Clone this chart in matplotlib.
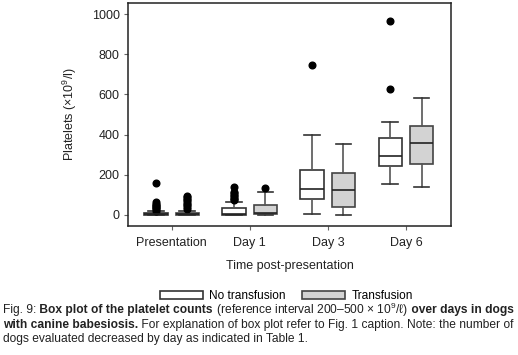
import matplotlib
matplotlib.use("Agg")
import matplotlib.pyplot as plt
import matplotlib.patches as mpatches

plt.rcParams['font.family'] = ['Liberation Sans', 'DejaVu Sans']
plt.rcParams['mathtext.fontset'] = 'custom'
plt.rcParams['mathtext.rm'] = 'Liberation Sans'
plt.rcParams['mathtext.default'] = 'regular'

# ---------- Data (x10^9/l) ----------
days = ['Presentation', 'Day 1', 'Day 3', 'Day 6']
groups = ['No transfusion', 'Transfusion']

no_q1 = [0, 2, 80, 244]
no_med = [3, 6, 129, 295]
no_q3 = [8, 33, 225, 381]
no_lo = [0, 0, 5, 154]
no_hi = [18, 66, 400, 461]
no_fliers = [[22, 28, 33, 38, 44, 50, 56, 62, 160],
             [74, 80, 86, 92, 100, 108, 116, 138],
             [746],
             [627, 965]]

tr_q1 = [2, 3, 41, 255]
tr_med = [5, 8, 123, 357]
tr_q3 = [10, 50, 209, 444]
tr_lo = [0, 0, 2, 139]
tr_hi = [20, 113, 355, 584]
tr_fliers = [[32, 40, 48, 56, 64, 72, 80, 88, 95],
             [133],
             [],
             []]

y_ticks = [0, 200, 400, 600, 800, 1000]


def make_stats(q1, med, q3, lo, hi, fliers):
    return [dict(q1=a, med=b, q3=c, whislo=d, whishi=e, fliers=f)
            for a, b, c, d, e, f in zip(q1, med, q3, lo, hi, fliers)]


fig = plt.figure(figsize=(5.18, 3.55), dpi=100)
ax = fig.add_axes([0.247, 0.3634, 0.624, 0.628])

fs = 9.0
common = dict(widths=0.3, capwidths=0.2, showfliers=True, patch_artist=True,
              whiskerprops=dict(color='#555555', lw=1.2),
              capprops=dict(color='#333333', lw=1.2),
              medianprops=dict(color='#222222', lw=1.2),
              flierprops=dict(marker='o', markerfacecolor='black',
                              markeredgecolor='black', markersize=4.8))

x = range(len(days))
ax.bxp(make_stats(no_q1, no_med, no_q3, no_lo, no_hi, no_fliers),
       positions=[i - 0.2 for i in x],
       boxprops=dict(facecolor='white', edgecolor='#333333', lw=1.2), **common)
ax.bxp(make_stats(tr_q1, tr_med, tr_q3, tr_lo, tr_hi, tr_fliers),
       positions=[i + 0.2 for i in x],
       boxprops=dict(facecolor='#d3d3d3', edgecolor='#444444', lw=1.2), **common)

ax.set_xlim(-0.56, 3.58)
ax.set_ylim(-55, 1055)
ax.set_xticks(list(x))
ax.set_xticklabels(days, fontsize=fs, color='#222222')
ax.set_yticks(y_ticks)
ax.set_yticklabels([str(v) for v in y_ticks], fontsize=fs, color='#222222')
ax.tick_params(direction='out', length=3, color='#666666', pad=3)
ax.tick_params(axis='x', pad=5)
for s in ax.spines.values():
    s.set_linewidth(1.1)
    s.set_color('#222222')
ax.set_xlabel('Time post-presentation', fontsize=fs, color='#222222', labelpad=8)
ax.set_ylabel('Platelets (×10$^9$/l)', fontsize=fs, color='#222222', labelpad=9)

handles = [mpatches.Patch(facecolor='white', edgecolor='#333333', lw=1.2, label=groups[0]),
           mpatches.Patch(facecolor='#d3d3d3', edgecolor='#444444', lw=1.2, label=groups[1])]
fig.legend(handles=handles, loc='center', bbox_to_anchor=(0.553, 0.166), ncol=2,
           frameon=False, fontsize=8.6, handlelength=3.6, handleheight=0.7,
           handletextpad=0.55, columnspacing=1.4)

# ---------- Caption with mixed bold/regular runs ----------
caption = [
    [("Fig. 9:", 'normal'), (" Box plot of the platelet counts", 'bold'),
     (" (reference interval 200–500 × 10$^9$/ℓ)", 'normal'), (" over days in dogs", 'bold')],
    [("with canine babesiosis.", 'bold'),
     (" For explanation of box plot refer to Fig. 1 caption. Note: the number of", 'normal')],
    [("dogs evaluated decreased by day as indicated in Table 1.", 'normal')],
]
line_y = [310, 325, 339]
renderer = fig.canvas.get_renderer()
cap_fs = 8.65
for runs, yy in zip(caption, line_y):
    xpix = 3
    for txt, weight in runs:
        t = fig.text(xpix / 518, 1 - yy / 355, txt, fontsize=cap_fs, fontweight=weight,
                     va='center', ha='left', color='#222222')
        bb = t.get_window_extent(renderer)
        xpix += bb.width

fig.savefig('out.png', dpi=100)
